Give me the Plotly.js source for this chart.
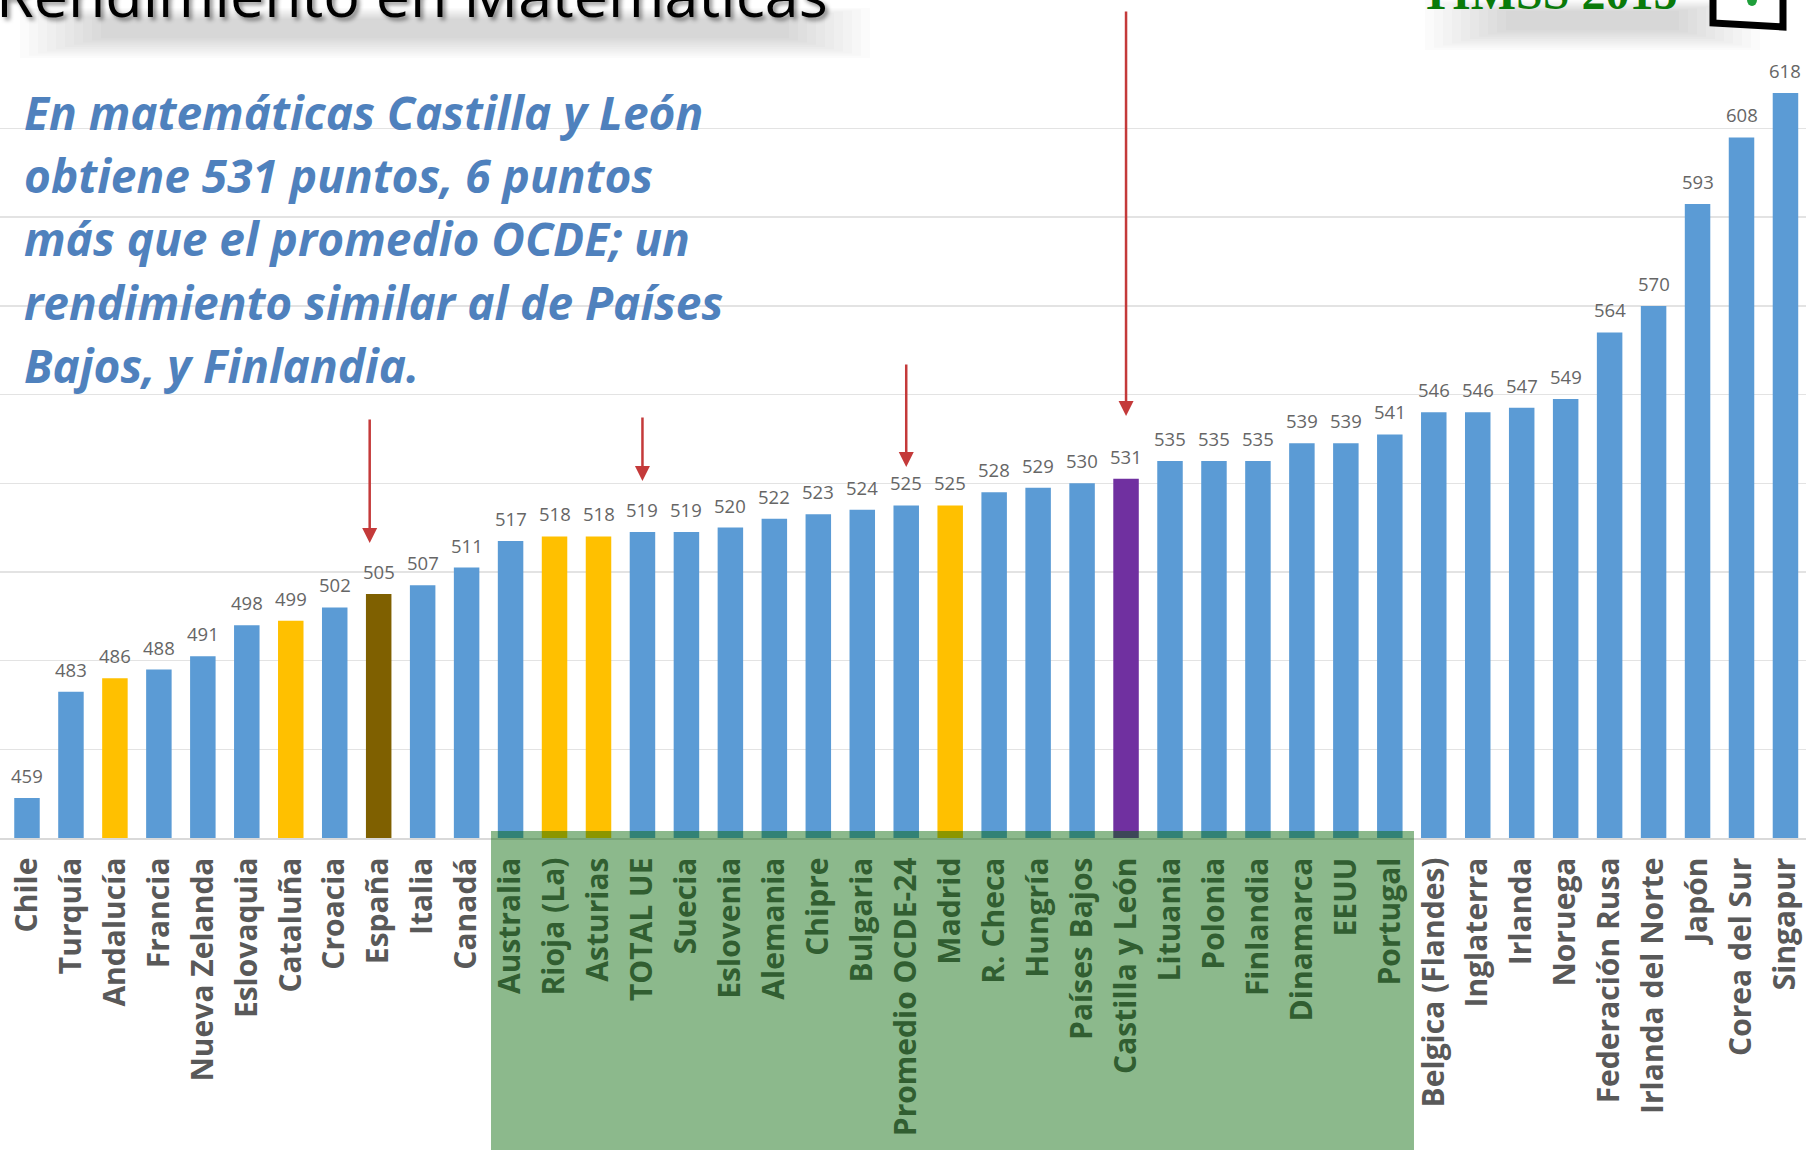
<!DOCTYPE html>
<html>
<head>
<meta charset="utf-8">
<script src="https://cdn.plot.ly/plotly-3.0.1.min.js"></script>
<style>html,body{margin:0;padding:0;background:#fff;}#chart{width:1806px;height:1154px;}</style>
</head>
<body>
<div id="chart"></div>
<script>
// ---- DATA ----
const categories = ['Chile','Turquía','Andalucía','Francia','Nueva Zelanda','Eslovaquia','Cataluña','Croacia','España','Italia','Canadá','Australia','Rioja (La)','Asturias','TOTAL UE','Suecia','Eslovenia','Alemania','Chipre','Bulgaria','Promedio OCDE-24','Madrid','R. Checa','Hungría','Países Bajos','Castilla y León','Lituania','Polonia','Finlandia','Dinamarca','EEUU','Portugal','Belgica (Flandes)','Inglaterra','Irlanda','Noruega','Federación Rusa','Irlanda del Norte','Japón','Corea del Sur','Singapur'];
const scores = [459,483,486,488,491,498,499,502,505,507,511,517,518,518,519,519,520,522,523,524,525,525,528,529,530,531,535,535,535,539,539,541,546,546,547,549,564,570,593,608,618];
const spanishRegions = ['Andalucía','Cataluña','Rioja (La)','Asturias','Madrid'];
const spainName = 'España';
const focusRegion = 'Castilla y León';
const arrowTargets = ['España','TOTAL UE','Promedio OCDE-24','Castilla y León'];
const boxFirst = 'Australia';
const boxLast = 'Portugal';
const titleText = 'Rendimiento en Matemáticas';
const badgeText = 'TIMSS 2015';
const noteLines = ['En matemáticas Castilla y León','obtiene 531 puntos, 6 puntos','más que el promedio OCDE; un','rendimiento similar al de Países','Bajos, y Finlandia.'];

// ---- LAYOUT HELPERS ----
const W = 1806, H = 1154, mT = 62, mB = 316;
const plotH = H - mT - mB;
const py = p => (H - mB - p) / plotH;   // pixel y -> paper y
const px = p => p / W;                  // pixel x -> paper x

const colors = categories.map(c => c === focusRegion ? '#7030A0' : c === spainName ? '#7F6000' : spanishRegions.includes(c) ? '#FFC000' : '#5B9BD5');

const trace = {
  type: 'bar', x: categories, y: scores,
  marker: {color: colors, line: {width: 0}},
  width: 0.58, hoverinfo: 'skip'
};

const annotations = [];
// value labels
categories.forEach((c, i) => {
  annotations.push({x: c, y: scores[i], xref: 'x', yref: 'y', text: String(scores[i]), showarrow: false,
    yanchor: 'bottom', yshift: 8, font: {family: 'Open Sans', size: 18.5, color: '#666666'}});
});
// red arrows (pixel geometry)
const arrowGeom = {'España': {dx: -9, tip: 543, tail: 418}, 'TOTAL UE': {dx: 0, tip: 481, tail: 416},
  'Promedio OCDE-24': {dx: 0, tip: 467, tail: 363}, 'Castilla y León': {dx: 0, tip: 416, tail: 10}};
arrowTargets.forEach(name => {
  const g = arrowGeom[name];
  annotations.push({x: categories.indexOf(name), xshift: g.dx, xref: 'x', yref: 'paper', y: py(g.tip), text: '',
    showarrow: true, arrowhead: 2, arrowsize: 1.2, arrowwidth: 2.5, arrowcolor: '#C43A3A', ax: 0, ay: g.tail - g.tip, standoff: 0});
});
// title
annotations.push({xref: 'paper', yref: 'paper', x: px(-6), y: py(17 - 0.388 * 61), xanchor: 'left', yanchor: 'middle',
  text: titleText, showarrow: false, font: {family: 'Open Sans', size: 61, color: '#000', shadow: '3px 3px 4px rgba(0,0,0,0.45)'}});
// badge
annotations.push({xref: 'paper', yref: 'paper', x: px(1418), y: py(9 - 0.34 * 48), xanchor: 'left', yanchor: 'middle',
  text: badgeText, showarrow: false, font: {family: 'Liberation Serif', size: 48, color: '#0A7A0A', weight: 'bold'}});
// note lines
const noteBase = [129.5, 192.5, 256, 319.5, 383];
noteLines.forEach((t, i) => {
  annotations.push({xref: 'paper', yref: 'paper', x: px(22), y: py(noteBase[i] - 0.388 * 46), xanchor: 'left', yanchor: 'middle',
    text: t, showarrow: false, font: {family: 'Open Sans', size: 46, color: '#4F81BD', weight: 'bold', style: 'italic'}});
});

const shapes = [];
// soft shadows under title and badge (layered to fake a blur)
for (let k = 0; k < 10; k++) {
  const a = 0.014;
  shapes.push({type: 'rect', xref: 'paper', yref: 'paper', layer: 'below',
    x0: px(20 + k * 9), x1: px(870 - k * 9), y0: py(58 - k * 2.2), y1: py(8 + k * 1.2),
    fillcolor: 'rgba(0,0,0,' + a + ')', line: {width: 0}});
  shapes.push({type: 'rect', xref: 'paper', yref: 'paper', layer: 'below',
    x0: px(1425 + k * 9), x1: px(1760 - k * 9), y0: py(50 - k * 2.2), y1: py(0 + k * 1.2),
    fillcolor: 'rgba(0,0,0,' + a + ')', line: {width: 0}});
}
// badge icon box
shapes.push({type: 'path', xref: 'paper', yref: 'paper', layer: 'above',
  path: 'M' + px(1713) + ',' + py(-10) + ' L' + px(1713) + ',' + py(23) + ' L' + px(1783) + ',' + py(27) + ' L' + px(1783) + ',' + py(-10),
  fillcolor: '#fff', line: {color: '#000', width: 7}});
shapes.push({type: 'circle', xref: 'paper', yref: 'paper', layer: 'above', x0: px(1747), x1: px(1757), y0: py(6), y1: py(-6),
  fillcolor: '#1E9E3A', line: {width: 0}});
// green highlight box
shapes.push({type: 'rect', xref: 'x', yref: 'paper', layer: 'above',
  x0: categories.indexOf(boxFirst) - 0.445, x1: categories.indexOf(boxLast) + 0.55,
  y0: py(1150), y1: py(831), fillcolor: 'rgba(0,100,0,0.45)', line: {width: 0}});

const layout = {
  width: W, height: H, margin: {l: 0, r: 0, t: mT, b: mB},
  paper_bgcolor: '#fff', plot_bgcolor: '#fff', showlegend: false,
  xaxis: {type: 'category', range: [-0.614, 40.467], showgrid: false, showline: true, linecolor: '#D9D9D9', linewidth: 1.5,
    tickangle: -90, ticks: '', ticklabelstandoff: 6,
    tickfont: {family: 'Open Sans', size: 30, color: '#595959', weight: 'bold'}, fixedrange: true},
  yaxis: {range: [450, 625], tick0: 450, dtick: 20, showticklabels: false, gridcolor: '#E3E3E3', gridwidth: 1.5,
    zeroline: false, showline: false, fixedrange: true},
  annotations: annotations, shapes: shapes
};

Plotly.newPlot('chart', [trace], layout, {displayModeBar: false, staticPlot: true});
</script>
</body>
</html>
